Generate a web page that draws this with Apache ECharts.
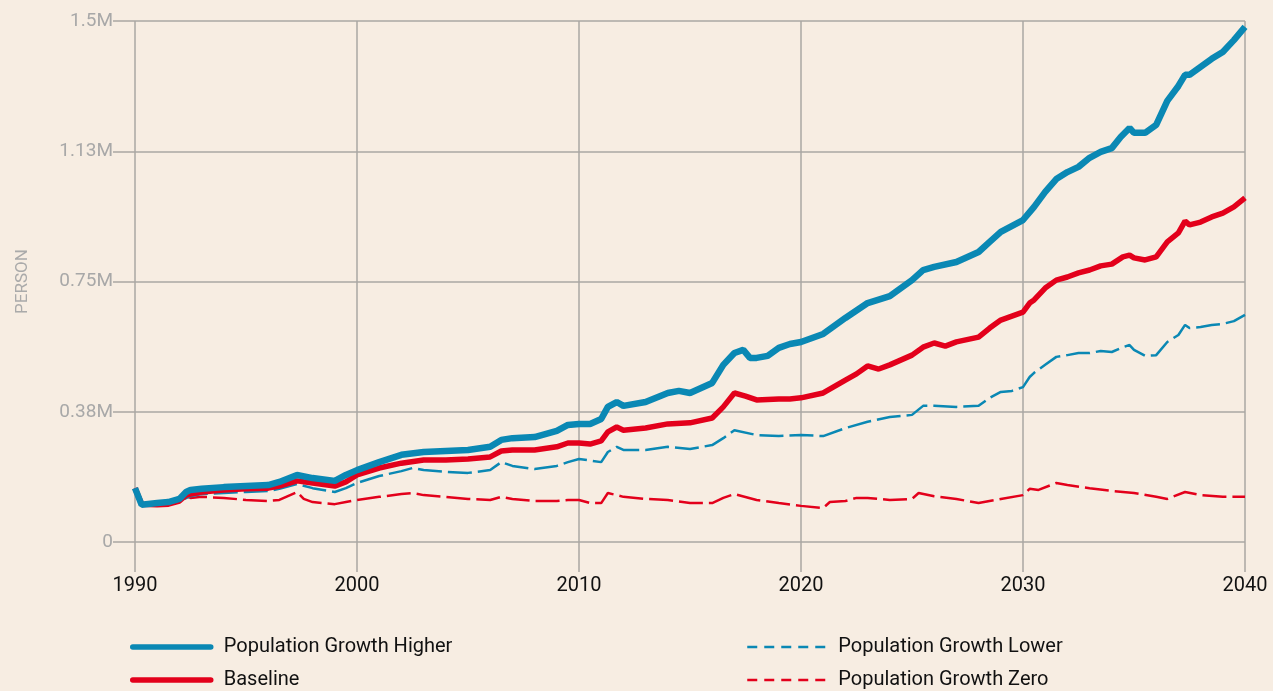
<!DOCTYPE html>
<html>
<head>
<meta charset="utf-8">
<script src="https://cdn.jsdelivr.net/npm/echarts@6/dist/echarts.min.js"></script>
<style>
  html, body { margin: 0; padding: 0; background: #f7ede2; }
  #main { width: 1273px; height: 691px; }
</style>
</head>
<body>
<div id="main"></div>
<script>
// values in millions of persons
var higherYears = [1990, 1990.3, 1991, 1991.5, 1992, 1992.3, 1992.5, 1993, 1994, 1995, 1996, 1996.5, 1997.3, 1998, 1999, 1999.5,
  2000, 2001, 2002, 2003, 2004, 2005, 2006, 2006.5, 2007, 2008, 2009, 2009.5, 2010, 2010.5, 2011, 2011.3, 2011.7, 2012, 2013,
  2014, 2014.5, 2015, 2016, 2016.5, 2017, 2017.4, 2017.7, 2018, 2018.5, 2019, 2019.5, 2020, 2021, 2022, 2023, 2024, 2025,
  2025.5, 2026, 2027, 2028, 2028.5, 2029, 2030, 2030.5, 2031, 2031.5, 2032, 2032.5, 2033, 2033.5, 2034, 2034.4, 2034.8, 2035,
  2035.5, 2036, 2036.5, 2037, 2037.3, 2037.5, 2038, 2038.5, 2039, 2039.5, 2040];
var higherValues = [0.155, 0.107, 0.112, 0.115, 0.124, 0.144, 0.150, 0.153, 0.158, 0.161, 0.164, 0.173, 0.193, 0.184, 0.176, 0.193,
  0.207, 0.230, 0.251, 0.259, 0.262, 0.265, 0.274, 0.294, 0.299, 0.302, 0.320, 0.337, 0.340, 0.340, 0.354, 0.389, 0.403, 0.392, 0.403,
  0.429, 0.435, 0.429, 0.458, 0.510, 0.544, 0.553, 0.530, 0.530, 0.536, 0.559, 0.570, 0.576, 0.599, 0.645, 0.688, 0.708, 0.754,
  0.783, 0.792, 0.806, 0.835, 0.864, 0.893, 0.927, 0.965, 1.008, 1.045, 1.065, 1.080, 1.106, 1.123, 1.134, 1.166, 1.192, 1.178,
  1.178, 1.201, 1.270, 1.313, 1.345, 1.345, 1.368, 1.391, 1.411, 1.445, 1.483];

var baselineYears = [1990, 1990.3, 1991, 1991.5, 1992, 1992.3, 1992.5, 1993, 1994, 1995, 1996, 1996.5, 1997.3, 1998, 1999, 1999.5,
  2000, 2001, 2002, 2003, 2004, 2005, 2006, 2006.5, 2007, 2008, 2009, 2009.5, 2010, 2010.5, 2011, 2011.3, 2011.7, 2012, 2013,
  2014, 2015, 2016, 2016.5, 2017, 2017.5, 2018, 2019, 2019.5, 2020, 2021, 2022, 2022.5, 2023, 2023.5, 2024, 2025, 2025.5, 2026,
  2026.5, 2027, 2028, 2028.5, 2029, 2030, 2030.3, 2030.5, 2031, 2031.5, 2032, 2032.5, 2033, 2033.5, 2034, 2034.5, 2034.8, 2035,
  2035.5, 2036, 2036.5, 2037, 2037.3, 2037.5, 2038, 2038.5, 2039, 2039.5, 2040];
var baselineValues = [0.155, 0.109, 0.107, 0.109, 0.118, 0.135, 0.138, 0.144, 0.150, 0.153, 0.155, 0.161, 0.176, 0.170, 0.161, 0.173,
  0.193, 0.213, 0.227, 0.236, 0.236, 0.239, 0.245, 0.262, 0.265, 0.265, 0.274, 0.285, 0.285, 0.282, 0.291, 0.317, 0.331, 0.322, 0.328,
  0.340, 0.343, 0.357, 0.389, 0.429, 0.420, 0.409, 0.412, 0.412, 0.415, 0.429, 0.466, 0.484, 0.507, 0.498, 0.510, 0.538, 0.561, 0.573,
  0.564, 0.576, 0.590, 0.616, 0.639, 0.662, 0.688, 0.697, 0.731, 0.754, 0.763, 0.775, 0.783, 0.795, 0.800, 0.821, 0.826, 0.818,
  0.812, 0.821, 0.864, 0.890, 0.924, 0.913, 0.921, 0.936, 0.947, 0.965, 0.991];

var lowerYears = [1990, 1990.3, 1991, 1992, 1992.5, 1993, 1994, 1995, 1996, 1996.5, 1997.3, 1998, 1999, 1999.5, 2000, 2001, 2002,
  2002.5, 2003, 2004, 2005, 2006, 2006.5, 2007, 2008, 2009, 2009.5, 2010, 2011, 2011.3, 2011.7, 2012, 2013, 2014, 2015, 2016,
  2016.5, 2017, 2018, 2019, 2020, 2021, 2022, 2023, 2024, 2025, 2025.5, 2026, 2027, 2028, 2028.5, 2029, 2029.5, 2030, 2030.3,
  2030.5, 2031, 2031.5, 2032, 2032.5, 2033, 2033.5, 2034, 2034.5, 2034.8, 2035, 2035.5, 2036, 2036.5, 2037, 2037.3, 2037.5, 2038,
  2038.5, 2039, 2039.5, 2040];
var lowerValues = [0.150, 0.107, 0.107, 0.118, 0.132, 0.138, 0.141, 0.144, 0.147, 0.153, 0.167, 0.155, 0.144, 0.155, 0.170, 0.190, 0.204,
  0.213, 0.207, 0.202, 0.199, 0.207, 0.230, 0.219, 0.210, 0.219, 0.230, 0.239, 0.230, 0.259, 0.274, 0.265, 0.265, 0.274, 0.268, 0.279,
  0.299, 0.322, 0.308, 0.305, 0.308, 0.305, 0.328, 0.346, 0.360, 0.366, 0.392, 0.392, 0.389, 0.392, 0.415, 0.432, 0.435, 0.446, 0.475,
  0.487, 0.510, 0.533, 0.538, 0.544, 0.544, 0.550, 0.547, 0.561, 0.567, 0.553, 0.536, 0.538, 0.576, 0.596, 0.625, 0.616, 0.619,
  0.625, 0.628, 0.636, 0.654];

var zeroYears = [1990, 1990.3, 1991, 1992, 1992.3, 1992.5, 1993, 1994, 1995, 1996, 1996.5, 1997.3, 1997.6, 1998, 1999, 1999.5, 2000,
  2001, 2002, 2002.5, 2003, 2004, 2005, 2006, 2006.5, 2007, 2008, 2009, 2009.5, 2010, 2010.5, 2011, 2011.3, 2011.7, 2012, 2013,
  2014, 2015, 2016, 2016.5, 2017, 2018, 2019, 2020, 2021, 2021.3, 2022, 2022.5, 2023, 2024, 2025, 2025.3, 2026, 2027, 2028, 2029,
  2030, 2030.3, 2030.7, 2031.5, 2032, 2033, 2034, 2035, 2036, 2036.5, 2037.3, 2038, 2039, 2040];
var zeroValues = [0.150, 0.107, 0.107, 0.118, 0.132, 0.127, 0.130, 0.127, 0.121, 0.118, 0.121, 0.144, 0.124, 0.115, 0.109, 0.115, 0.121,
  0.130, 0.138, 0.141, 0.135, 0.130, 0.124, 0.121, 0.130, 0.124, 0.118, 0.118, 0.121, 0.121, 0.112, 0.112, 0.141, 0.135, 0.130, 0.124,
  0.121, 0.112, 0.112, 0.127, 0.138, 0.121, 0.112, 0.104, 0.098, 0.115, 0.118, 0.127, 0.127, 0.121, 0.124, 0.141, 0.132, 0.124, 0.112,
  0.124, 0.135, 0.153, 0.150, 0.170, 0.164, 0.155, 0.147, 0.141, 0.130, 0.124, 0.144, 0.135, 0.130, 0.130];

function pairs(xs, ys) {
  return xs.map(function (x, i) { return [x, ys[i]]; });
}

var blue = '#0a88b4';
var red = '#e3001b';
var gridColor = '#aaa7a3';
var font = 'Roboto, "Liberation Sans", sans-serif';

// one legend per entry so each sits where the original has it
function legendAt(name, left, top, dashed) {
  var item = { name: name };
  item.lineStyle = dashed ? { type: [10, 7], width: 2.5 } : { width: 5.5, cap: 'round' };
  return {
    left: left, top: top, itemWidth: 78, itemHeight: 14,
    itemStyle: { color: 'transparent', borderColor: 'transparent', borderWidth: 0 },
    textStyle: { fontSize: 20, color: '#111', padding: [0, 0, 0, 8] },
    data: [item]
  };
}

var chart = echarts.init(document.getElementById('main'));
var option = {
  backgroundColor: '#f7ede2',
  animation: false,
  textStyle: { fontFamily: font },
  grid: { left: 135, right: 28, top: 21, bottom: 149 },
  legend: [
    legendAt('Population Growth Higher', 125, 632, false),
    legendAt('Baseline', 125, 665, false),
    legendAt('Population Growth Lower', 741, 632, true),
    legendAt('Population Growth Zero', 741, 665, true)
  ],
  xAxis: {
    type: 'value', min: 1990, max: 2040, interval: 10,
    axisLine: { show: false },
    axisTick: { show: true, length: 30, lineStyle: { color: gridColor, width: 1.5 } },
    axisLabel: { color: '#111', fontSize: 20, margin: 34, formatter: function (v) { return String(v); } },
    splitLine: { show: true, lineStyle: { color: gridColor, width: 1.5 } }
  },
  yAxis: {
    type: 'value', min: 0, max: 1.5, interval: 0.375,
    name: 'PERSON', nameLocation: 'middle', nameRotate: 90, nameGap: 104,
    nameTextStyle: { color: '#aaa', fontSize: 17 },
    axisLine: { show: false },
    axisTick: { show: true, length: 22, lineStyle: { color: gridColor, width: 1.5 } },
    axisLabel: {
      color: '#a8a8a8', fontSize: 19, margin: 22,
      formatter: function (v) {
        return v === 0 ? '0' : (+v.toFixed(2)) + 'M';
      }
    },
    splitLine: { show: true, lineStyle: { color: gridColor, width: 1.5 } }
  },
  series: [{
    name: 'Population Growth Zero', type: 'line', symbol: 'none',
    color: red, lineStyle: { width: 2.5, type: [24, 6] },
    data: pairs(zeroYears, zeroValues)
  }, {
    name: 'Population Growth Lower', type: 'line', symbol: 'none',
    color: blue, lineStyle: { width: 2.5, type: [24, 6] },
    data: pairs(lowerYears, lowerValues)
  }, {
    name: 'Baseline', type: 'line', symbol: 'none',
    color: red, lineStyle: { width: 5.5 },
    data: pairs(baselineYears, baselineValues)
  }, {
    name: 'Population Growth Higher', type: 'line', symbol: 'none',
    color: blue, lineStyle: { width: 6.5 },
    data: pairs(higherYears, higherValues)
  }]
};
chart.setOption(option);
</script>
</body>
</html>
